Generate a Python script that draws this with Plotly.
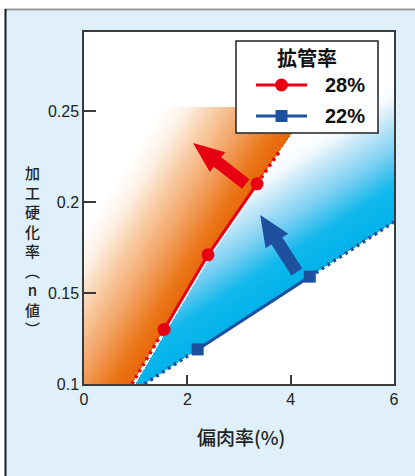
import numpy as np
import plotly.graph_objects as go

# 拡管率 28%
red_x = [1.55, 2.40, 3.35]
red_n = [0.130, 0.171, 0.210]
# 拡管率 22%
blue_x = [2.20, 4.37]
blue_n = [0.119, 0.159]

series_names = ["28%", "22%"]
legend_title = "拡管率"
x_title = "偏肉率(%)"
y_title_glyphs = ["加", "工", "硬", "化", "率", "︵", "n", "値", "︶"]
x_ticks = [0, 2, 4, 6]
y_ticks = [0.1, 0.15, 0.2, 0.25]
y_tick_text = ["0.1", "0.15", "0.2", "0.25"]

X0, X1 = 0.0, 6.0
Y0, Y1 = 0.1, 0.2934

W, H = 415, 476
ML, MR, MT, MB = 84, 21, 32, 92
PW, PH = W - ML - MR, H - MT - MB

RED = "#e60012"
BLUE = "#1e50a0"
INK = "#222222"
CJK = "Noto Sans CJK JP"
LATIN = "Liberation Sans, Arial"


def to_px(x, y):
    return ML + (x - X0) / (X1 - X0) * PW, MT + (Y1 - y) / (Y1 - Y0) * PH


def to_data(px, py):
    return X0 + (px - ML) / PW * (X1 - X0), Y1 - (py - MT) / PH * (Y1 - Y0)


def paper_x(px):
    return (px - ML) / PW


def paper_y(py):
    return (MT + PH - py) / PH


def x_on_segment(xa, ya, xb, yb, y):
    return xa + (y - ya) * (xb - xa) / (yb - ya)


# dotted guides continue the end segments of each series
RED_GUIDE_TOP = 0.229
ORANGE_TOP = 0.2522
red_lo = x_on_segment(red_x[0], red_n[0], red_x[1], red_n[1], Y0)
red_hi = x_on_segment(red_x[-2], red_n[-2], red_x[-1], red_n[-1], RED_GUIDE_TOP)
red_top = x_on_segment(red_x[-2], red_n[-2], red_x[-1], red_n[-1], ORANGE_TOP)

blue_slope = (blue_n[-1] - blue_n[0]) / (blue_x[-1] - blue_x[0])
blue_lo = x_on_segment(blue_x[0], blue_n[0], blue_x[1], blue_n[1], Y0)
blue_hi = blue_n[-1] + (X1 - blue_x[-1]) * blue_slope

red_bx = [red_lo] + red_x + [red_top]
red_by = [Y0] + red_n + [ORANGE_TOP]
blue_bx = [blue_lo] + blue_x + [X1]
blue_by = [Y0] + blue_n + [blue_hi]


def pixel_distance(PX, PY, xa, ya, xb, yb):
    ax, ay = to_px(xa, ya)
    bx, by = to_px(xb, yb)
    ux, uy = bx - ax, by - ay
    n = np.hypot(ux, uy)
    return np.abs(((PX - ax) * uy - (PY - ay) * ux) / n)


# one heatmap cell per screen pixel for the shaded bands
dx = (X1 - X0) / PW
dy = (Y1 - Y0) / PH
gx = X0 + (np.arange(PW) + 0.5) * dx
gy = Y0 + (np.arange(PH) + 0.5) * dy
GX, GY = np.meshgrid(gx, gy)
PXg, PYg = to_px(GX, GY)

edge_x = np.interp(GY, red_by, red_bx)
gap = 3.5 * dx

orange_mask = (GY <= ORANGE_TOP) & (GX <= edge_x)
orange_d = pixel_distance(PXg, PYg, red_x[0], red_n[0], red_x[-1], red_n[-1])
orange_z = np.where(orange_mask, np.round(orange_d, 1), None)

blue_mask = (GX >= edge_x + gap) & (GY >= np.interp(GX, blue_bx, blue_by))
blue_d = pixel_distance(PXg, PYg, blue_x[0], blue_n[0], blue_x[-1], blue_n[-1])
blue_z = np.where(blue_mask, np.round(blue_d, 1), None)

ZMAX = 120.0
orange_scale = [
    [0.0, "#e8680a"], [15 / ZMAX, "#ea7517"], [45 / ZMAX, "#f2a263"],
    [75 / ZMAX, "#f8cda6"], [100 / ZMAX, "#fdf1e6"], [1.0, "#ffffff"],
]
blue_scale = [
    [0.0, "#00b2ea"], [30 / ZMAX, "#12b8ec"], [60 / ZMAX, "#7dd0f3"],
    [90 / ZMAX, "#cdeaf9"], [105 / ZMAX, "#f4fbfe"], [1.0, "#ffffff"],
]

fig = go.Figure()
for z, scale in ((orange_z, orange_scale), (blue_z, blue_scale)):
    fig.add_trace(go.Heatmap(
        z=z.tolist(), x0=X0 + dx / 2, dx=dx, y0=Y0 + dy / 2, dy=dy,
        colorscale=scale, zmin=0, zmax=ZMAX, zsmooth=False,
        showscale=False, hoverinfo="skip",
    ))

dot_line = "3px,4px"
guides = [
    ([red_lo, red_x[0]], [Y0, red_n[0]], RED),
    ([red_x[-1], red_hi], [red_n[-1], RED_GUIDE_TOP], RED),
    ([blue_lo, blue_x[0]], [Y0, blue_n[0]], BLUE),
    ([blue_x[-1], X1], [blue_n[-1], blue_hi], BLUE),
]
for gxs, gys, col in guides:
    fig.add_trace(go.Scatter(x=gxs, y=gys, mode="lines",
                             line=dict(color=col, width=3.5, dash=dot_line),
                             hoverinfo="skip"))

fig.add_trace(go.Scatter(x=red_x, y=red_n, mode="lines+markers", name=series_names[0],
                         line=dict(color=RED, width=3),
                         marker=dict(symbol="circle", size=13, color=RED)))
fig.add_trace(go.Scatter(x=blue_x, y=blue_n, mode="lines+markers", name=series_names[1],
                         line=dict(color=BLUE, width=3),
                         marker=dict(symbol="square", size=12, color=BLUE)))


def block_arrow(tail, tip, shaft_w, head_w, head_len, color):
    tx, ty = to_px(*tail)
    hx, hy = to_px(*tip)
    L = np.hypot(hx - tx, hy - ty)
    ux, uy = (hx - tx) / L, (hy - ty) / L
    nx, ny = -uy, ux
    bx, by = hx - ux * head_len, hy - uy * head_len
    pts = [
        (tx + nx * shaft_w / 2, ty + ny * shaft_w / 2),
        (bx + nx * shaft_w / 2, by + ny * shaft_w / 2),
        (bx + nx * head_w / 2, by + ny * head_w / 2),
        (hx, hy),
        (bx - nx * head_w / 2, by - ny * head_w / 2),
        (bx - nx * shaft_w / 2, by - ny * shaft_w / 2),
        (tx - nx * shaft_w / 2, ty - ny * shaft_w / 2),
    ]
    d = [to_data(px, py) for px, py in pts]
    path = "M " + " L ".join(f"{x:.5f},{y:.6f}" for x, y in d) + " Z"
    return dict(type="path", xref="x", yref="y", path=path,
                fillcolor=color, line=dict(width=0), layer="above")


def paper_rect(px0, py0, px1, py1, **kw):
    return dict(type="rect", xref="paper", yref="paper",
                x0=paper_x(px0), x1=paper_x(px1), y0=paper_y(py1), y1=paper_y(py0), **kw)


def paper_line(px0, py0, px1, py1, color, width):
    return dict(type="line", xref="paper", yref="paper",
                x0=paper_x(px0), x1=paper_x(px1), y0=paper_y(py0), y1=paper_y(py1),
                line=dict(color=color, width=width))


shapes = [
    block_arrow((3.13, 0.2099), (2.11, 0.2324), 12, 25, 31, RED),
    block_arrow((4.12, 0.1615), (3.41, 0.1929), 13, 27, 31, BLUE),
    # outer panel edges
    paper_rect(-10, -10, W + 10, 9, fillcolor="#ffffff", line=dict(width=0)),
    paper_rect(-10, -10, 5, H + 10, fillcolor="#ffffff", line=dict(width=0)),
    paper_line(5, 9.5, W + 10, 9.5, "#9a9a9a", 2),
    paper_line(5.5, 9, 5.5, H + 10, "#1a1a1a", 2),
]

# legend box drawn inside the plot panel
LEG_L, LEG_T, LEG_R, LEG_B = 236, 41, 378, 133
legend_rows = [(85, RED, "circle"), (116, BLUE, "square")]
shapes.append(paper_rect(LEG_L, LEG_T, LEG_R, LEG_B, fillcolor="#ffffff",
                         line=dict(color="#222222", width=1.5), layer="above"))
annotations = [
    dict(text=legend_title, xref="paper", yref="paper", x=paper_x((LEG_L + LEG_R) / 2),
         y=paper_y(57), showarrow=False, xanchor="center", yanchor="middle",
         font=dict(family=CJK, size=20, color="#111111", weight="bold")),
]
for (py, col, sym), name in zip(legend_rows, series_names):
    shapes.append(dict(paper_line(256, py, 307, py, col, 3), layer="above"))
    if sym == "circle":
        shapes.append(dict(paper_rect(275, py - 6.5, 288, py + 6.5, fillcolor=col,
                                      line=dict(width=0), layer="above"), type="circle"))
    else:
        shapes.append(paper_rect(275.5, py - 6, 287.5, py + 6, fillcolor=col,
                                 line=dict(width=0), layer="above"))
    annotations.append(dict(text=name, xref="paper", yref="paper", x=paper_x(323), y=paper_y(py),
                            showarrow=False, xanchor="left", yanchor="middle",
                            font=dict(family=LATIN, size=20, color="#111111", weight="bold")))

annotations.append(dict(text=x_title, xref="paper", yref="paper", x=paper_x(241), y=paper_y(436),
                        showarrow=False, xanchor="center", yanchor="middle",
                        font=dict(family=CJK, size=19, color=INK, weight=500)))

# vertical axis title, stacked one glyph per line
annotations.append(dict(text="<br>".join(y_title_glyphs), xref="paper", yref="paper",
                        x=paper_x(32.5), y=paper_y(251), showarrow=False,
                        xanchor="center", yanchor="middle", align="center",
                        font=dict(family=CJK, size=15, color=INK, weight=500)))

axis_common = dict(showline=True, linecolor="#3a3a3a", linewidth=1.5, mirror=True,
                   showgrid=False, zeroline=False, ticks="inside", tickcolor="#3a3a3a",
                   tickwidth=1.5, tickfont=dict(family=LATIN, size=16, color=INK))

fig.update_layout(
    width=W, height=H,
    margin=dict(l=ML, r=MR, t=MT, b=MB, autoexpand=False),
    paper_bgcolor="#dff0fa",
    plot_bgcolor="#ffffff",
    showlegend=False,
    xaxis=dict(range=[X0, X1], tickvals=x_ticks, ticklen=9, **axis_common),
    yaxis=dict(range=[Y0, Y1], tickvals=y_ticks, ticktext=y_tick_text, ticklen=12, **axis_common),
    shapes=shapes,
    annotations=annotations,
)

fig.write_html("out.html")
